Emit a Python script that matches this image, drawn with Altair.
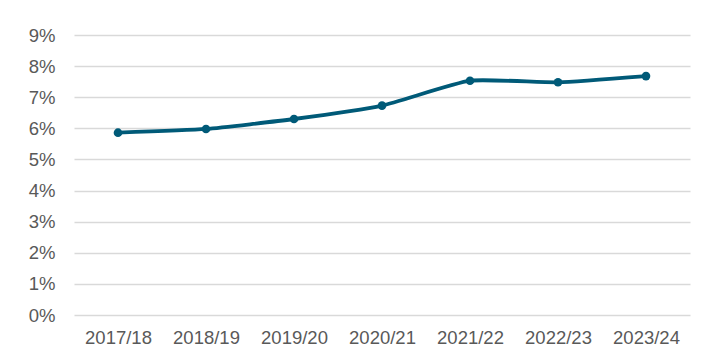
import altair as alt
import pandas as pd

years = ["2017/18", "2018/19", "2019/20", "2020/21", "2021/22", "2022/23", "2023/24"]
rates = [0.0586, 0.0598, 0.0630, 0.0673, 0.0753, 0.0748, 0.0768]
y_ticks = [0.0, 0.01, 0.02, 0.03, 0.04, 0.05, 0.06, 0.07, 0.08, 0.09]

df = pd.DataFrame({"year": years, "rate": rates})

COLOR = "#005A78"
FONT = "Liberation Sans"

x = alt.X("year:N", sort=years, title=None,
          scale=alt.Scale(paddingInner=0, paddingOuter=0.5),
          axis=alt.Axis(labelAngle=0, labelFont=FONT, labelFontSize=18.5,
                        labelColor="#595959", domain=False, ticks=False,
                        grid=False, labelPadding=13))
y = alt.Y("rate:Q", title=None,
          scale=alt.Scale(domain=[0, 0.09], nice=False),
          axis=alt.Axis(values=y_ticks, format=".0%", labelFont=FONT,
                        labelFontSize=18.5, labelColor="#595959",
                        domain=False, ticks=False, gridColor="#D9D9D9",
                        gridWidth=1.3, labelPadding=19))

base = alt.Chart(df).encode(x=x, y=y)
line = base.mark_line(color=COLOR, strokeWidth=3.8, interpolate="cardinal", tension=0.5)
pts = base.mark_circle(color=COLOR, size=75, opacity=1)

chart = (line + pts).properties(
    width=616, height=280,
    autosize="none",
    padding={"left": 74, "top": 35, "right": 30, "bottom": 44},
    background="white",
).configure_view(stroke=None)

chart.save("out.html", embed_options={"renderer": "svg", "actions": False})
